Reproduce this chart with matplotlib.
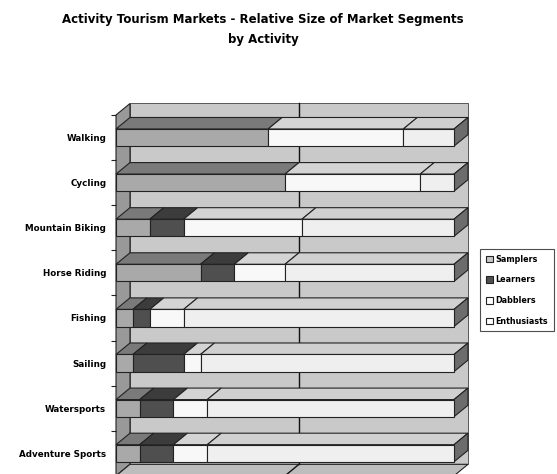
import matplotlib.pyplot as plt
from matplotlib.patches import Polygon, Patch
import numpy as np

activities = ['Walking', 'Cycling', 'Mountain Biking', 'Horse Riding',
              'Fishing', 'Sailing', 'Watersports', 'Adventure Sports']
segments = ['Samplers', 'Learners', 'Dabblers', 'Enthusiasts']
samplers = [45, 50, 10, 25, 5, 5, 7, 7]
learners = [0, 0, 10, 10, 5, 15, 10, 10]
dabblers = [40, 40, 35, 15, 10, 5, 10, 10]
enthusiasts = [15, 10, 45, 50, 80, 75, 73, 73]

front_cols = ['#a9a9a9', '#4f4f4f', '#f8f8f8', '#efefef']
top_cols = ['#7a7a7a', '#3c3c3c', '#d4d4d4', '#d0d0d0']
side_col = '#6c6c6c'
legend_cols = ['#c8c8c8', '#505050', '#ffffff', '#ffffff']

fig = plt.figure(figsize=(5.57, 4.74), dpi=100)
# axes placed so the front plane spans the chart area
ax = fig.add_axes([116 / 557, 1 - 475.8 / 474, 338 / 557, (475.8 - 115) / 474])
ax.set_xlim(0, 100)
ax.set_ylim(7.5, -0.5)

dx, dy = 4.14, -0.255   # 3-D depth offset in data units
h = 0.19                # half bar height
n = len(activities)

def poly(pts, fc, z, lw=0.8):
    p = Polygon(pts, closed=True, facecolor=fc, edgecolor='#222222',
                linewidth=lw, clip_on=False, zorder=z)
    ax.add_patch(p)

# walls and floor
top_y, bot_y = -0.5, n - 0.5
poly([(dx, top_y + dy), (100 + dx, top_y + dy), (100 + dx, bot_y + dy), (dx, bot_y + dy)],
     '#c9c9c9', 1, lw=0.5)
poly([(0, top_y), (dx, top_y + dy), (dx, bot_y + dy), (0, bot_y)], '#999999', 1, lw=0.8)
poly([(0, bot_y), (100, bot_y), (100 + dx, bot_y + dy), (dx, bot_y + dy)], '#bdbdbd', 1, lw=0.8)

# 50% gridline on back wall and floor
ax.plot([50 + dx, 50 + dx], [top_y + dy, bot_y + dy], color='#111111', lw=1.0,
        zorder=2, clip_on=False)
ax.plot([50, 50 + dx], [bot_y, bot_y + dy], color='#111111', lw=1.0,
        zorder=2, clip_on=False)

data = np.array([samplers, learners, dabblers, enthusiasts], dtype=float)
for i in range(n):
    left = 0.0
    y0, y1 = i + h, i - h   # bottom and top of front face
    for k in range(len(segments)):
        w = data[k, i]
        if w <= 0:
            continue
        right = left + w
        poly([(left, y1), (right, y1), (right + dx, y1 + dy), (left + dx, y1 + dy)],
             top_cols[k], 3)
        poly([(left, y0), (right, y0), (right, y1), (left, y1)], front_cols[k], 4)
        left = right
    poly([(left, y0), (left, y1), (left + dx, y1 + dy), (left + dx, y0 + dy)], side_col, 3)

# axis labels and boundary ticks
for s in ax.spines.values():
    s.set_visible(False)
ax.set_xticks([])
ax.set_yticks(range(n))
ax.set_yticklabels(activities, fontsize=6.3, fontweight='bold')
ax.tick_params(axis='y', which='major', length=0, pad=7)
ax.set_yticks(np.arange(-0.5, n, 1.0), minor=True)
ax.tick_params(axis='y', which='minor', length=3.5, width=0.8, color='#222222')

fig.text(263 / 557, 1 - 20 / 474,
         'Activity Tourism Markets - Relative Size of Market Segments',
         ha='center', va='center', fontsize=8.5, fontweight='bold')
fig.text(263 / 557, 1 - 39 / 474, 'by Activity',
         ha='center', va='center', fontsize=8.5, fontweight='bold')

handles = [Patch(facecolor=c, edgecolor='#222222', linewidth=0.8) for c in legend_cols]
leg = fig.legend(handles, segments, loc='upper left',
                 bbox_to_anchor=(480 / 557, 1 - 249 / 474),
                 prop={'size': 5.8, 'weight': 'bold'}, frameon=True, fancybox=False,
                 handlelength=0.9, handleheight=0.9, handletextpad=0.3,
                 labelspacing=1.45, borderpad=0.7, borderaxespad=0)
leg.get_frame().set_edgecolor('#222222')
leg.get_frame().set_linewidth(0.8)

fig.savefig('out.png', dpi=100)
